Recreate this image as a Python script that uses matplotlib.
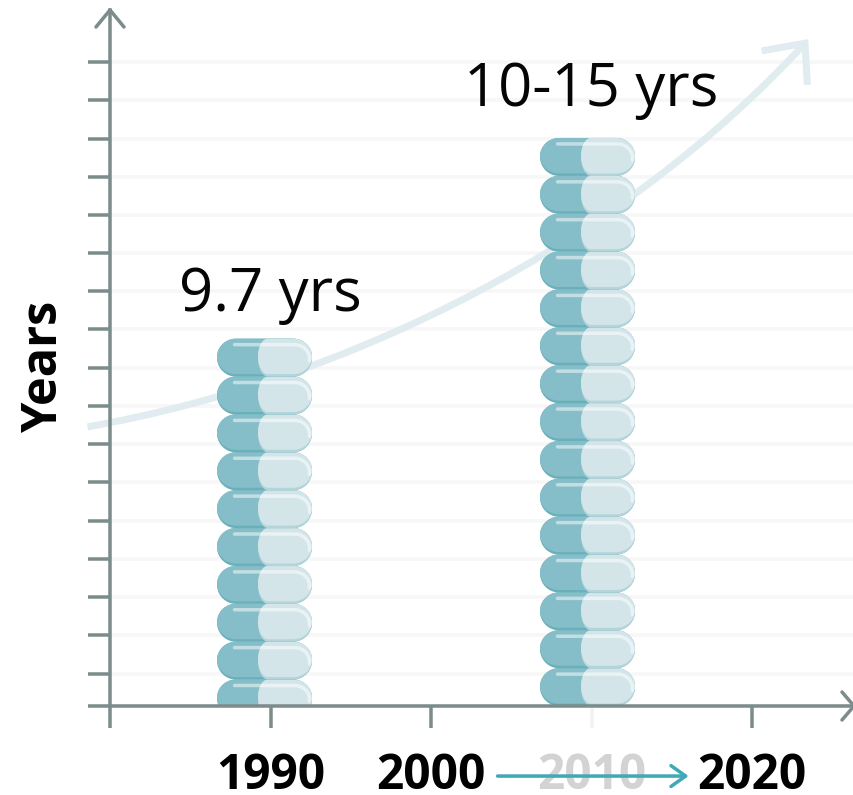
#!/usr/bin/env python3

from matplotlib import pyplot as plt
from matplotlib.patches import Polygon, PathPatch
from matplotlib.path import Path
import numpy as np

plt.rcParams['font.family'] = ['Open Sans', 'DejaVu Sans']

bar_years = [1990, 2010]
bar_values = [9.7, 15]
bar_labels = ['9.7 yrs', '10-15 yrs']
year_ticks = [1980, 1990, 2000, 2010, 2020]
year_labels = ['', '1990', '2000', '2010', '2020']
value_ticks = [0, 0.85, 1.87, 2.88, 3.88, 4.88, 5.91, 6.92, 7.92, 8.92, 9.95,
               10.96, 11.96, 12.97, 13.97, 14.97, 16.0, 17.0]
trend_ctrl = [(1978.6, 7.37), (1994.95, 8.6), (2011.8, 12.2), (2023.3, 17.5)]
trend_head = [(2020.6, 17.3), (2023.3, 17.5), (2023.45, 16.4)]

# scale of the axes, pixels per data unit
PX_X = 16.05
PX_Y = 37.87
W, H = 854, 795
AXIS_GREY = '#7c8b8b'
pt = 72 / 100  # one pixel in points
PILL_W = 95


def pill_outline(cx, top, width, height, left_rx, right_rx):
    # capsule shape in data coordinates, sizes given in pixels
    ry = height / 2 / PX_Y
    cy = top - ry
    xl = cx + (-width / 2 + left_rx) / PX_X
    xr = cx + (width / 2 - right_rx) / PX_X
    t = np.linspace(-np.pi / 2, np.pi / 2, 30)
    right = np.c_[xr + right_rx / PX_X * np.cos(t), cy + ry * np.sin(t)]
    left = np.c_[xl - left_rx / PX_X * np.cos(t[::-1]), cy + ry * np.sin(t[::-1])]
    return np.vstack([right, left])


def draw_pill(ax, cx, top):
    rim = Polygon(pill_outline(cx, top, PILL_W, 38, 19, 19), fc='#69b0bb', ec='none', zorder=2)
    body = Polygon(pill_outline(cx, top, PILL_W, 35.5, 19, 19), fc='#85bec8', ec='none', zorder=2)
    ax.add_patch(rim)
    ax.add_patch(body)
    # light half, cut to the capsule
    half_w = PILL_W - 41
    half_cx = cx + (PILL_W - half_w) / 2 / PX_X
    half_rim = Polygon(pill_outline(half_cx, top, half_w, 38, 10, 19), fc='#b3d5da', ec='none', zorder=2)
    half = Polygon(pill_outline(half_cx, top, half_w, 35.5, 10, 19), fc='#d3e5e9', ec='none', zorder=2)
    ax.add_patch(half_rim)
    ax.add_patch(half)
    # highlight along the top and round the right end
    hy = top - 6 / PX_Y
    t = np.linspace(np.pi / 2, -0.15, 15)
    arc_x = cx + 30 / PX_X + 15 / PX_X * np.cos(t)
    arc_y = hy - 14 / PX_Y + 14 / PX_Y * np.sin(t)
    hx = np.r_[cx - 30 / PX_X, arc_x]
    hy = np.r_[hy, arc_y]
    ax.plot(hx, hy, color='white', alpha=0.5, lw=3.5 * pt, solid_capstyle='round', zorder=2.1)


fig = plt.figure(figsize=(W / 100, H / 100), dpi=100)
ax = fig.add_axes([110 / W, (H - 706) / H, (W - 110) / W, 696 / H])
ax.set_xlim(1980, 1980 + (W - 110) / PX_X)
ax.set_ylim(0, 696 / PX_Y)

ax.set_xticks(year_ticks)
ax.set_xticklabels(year_labels, fontsize=34.5, fontweight='bold')
ax.set_yticks(value_ticks)
ax.set_yticklabels([])
ax.tick_params(axis='both', length=22 * pt, width=3.5 * pt, color=AXIS_GREY)
ax.tick_params(axis='x', pad=24 * pt)
ax.grid(axis='y', color='#f7f7f7', lw=3.5 * pt)
ax.set_axisbelow(True)

for side in ['top', 'right']:
    ax.spines[side].set_visible(False)
for side in ['left', 'bottom']:
    ax.spines[side].set_color(AXIS_GREY)
    ax.spines[side].set_linewidth(3.5 * pt)

# the 2010 tick and label are faded out
faded = ax.xaxis.get_major_ticks()[3]
faded.tick1line.set_markeredgecolor('#f2f2f2')
faded.label1.set_color('#d3d3d3')

# axis arrow heads
y_end = ax.get_ylim()[1]
ax.plot([1980 - 14 / PX_X, 1980, 1980 + 14 / PX_X], [y_end - 17 / PX_Y, y_end, y_end - 17 / PX_Y],
        color=AXIS_GREY, lw=3.5 * pt, clip_on=False, zorder=3, solid_capstyle='round')
x_end = ax.get_xlim()[1]
ax.plot([x_end - 12 / PX_X, x_end, x_end - 12 / PX_X], [14 / PX_Y, 0, -14 / PX_Y],
        color=AXIS_GREY, lw=3.5 * pt, clip_on=False, zorder=3, solid_capstyle='round')

# rising trend behind the stacks
trend = Path(trend_ctrl, [Path.MOVETO, Path.CURVE4, Path.CURVE4, Path.CURVE4])
ax.add_patch(PathPatch(trend, fc='none', ec='#e0ecef', lw=7 * pt, clip_on=False, zorder=1.5, capstyle='butt'))
ax.plot(*zip(*trend_head), color='#e0ecef', lw=7 * pt, clip_on=False, zorder=1.5,
        solid_joinstyle='miter', solid_capstyle='butt')

# stacks of capsules, hanging from the value down to the axis
for year, value, shift in zip(bar_years, bar_values, [-6, -4]):
    n = int(np.ceil(value))
    for i in range(n - 1, -1, -1):
        draw_pill(ax, year + shift / PX_X, value - i)

for year, value, label, gap in zip(bar_years, bar_values, bar_labels, [28, 32]):
    ax.text(year, value + gap / PX_Y, label, ha='center', va='baseline', fontsize=43, color='#050505')

ax.text(45, H - 367, 'Years', transform=None, rotation=90, ha='center', va='center',
        fontsize=35, fontweight='bold', color='black')

# arrow across the year labels
ax.annotate('', xy=(2016.05, -1.85), xytext=(2004.15, -1.85), annotation_clip=False, zorder=4,
            arrowprops=dict(arrowstyle='->,head_length=1.05,head_width=0.75', color='#3fa9b5',
                            lw=3.5 * pt, shrinkA=0, shrinkB=0))

fig.savefig('out.png', dpi=100)
